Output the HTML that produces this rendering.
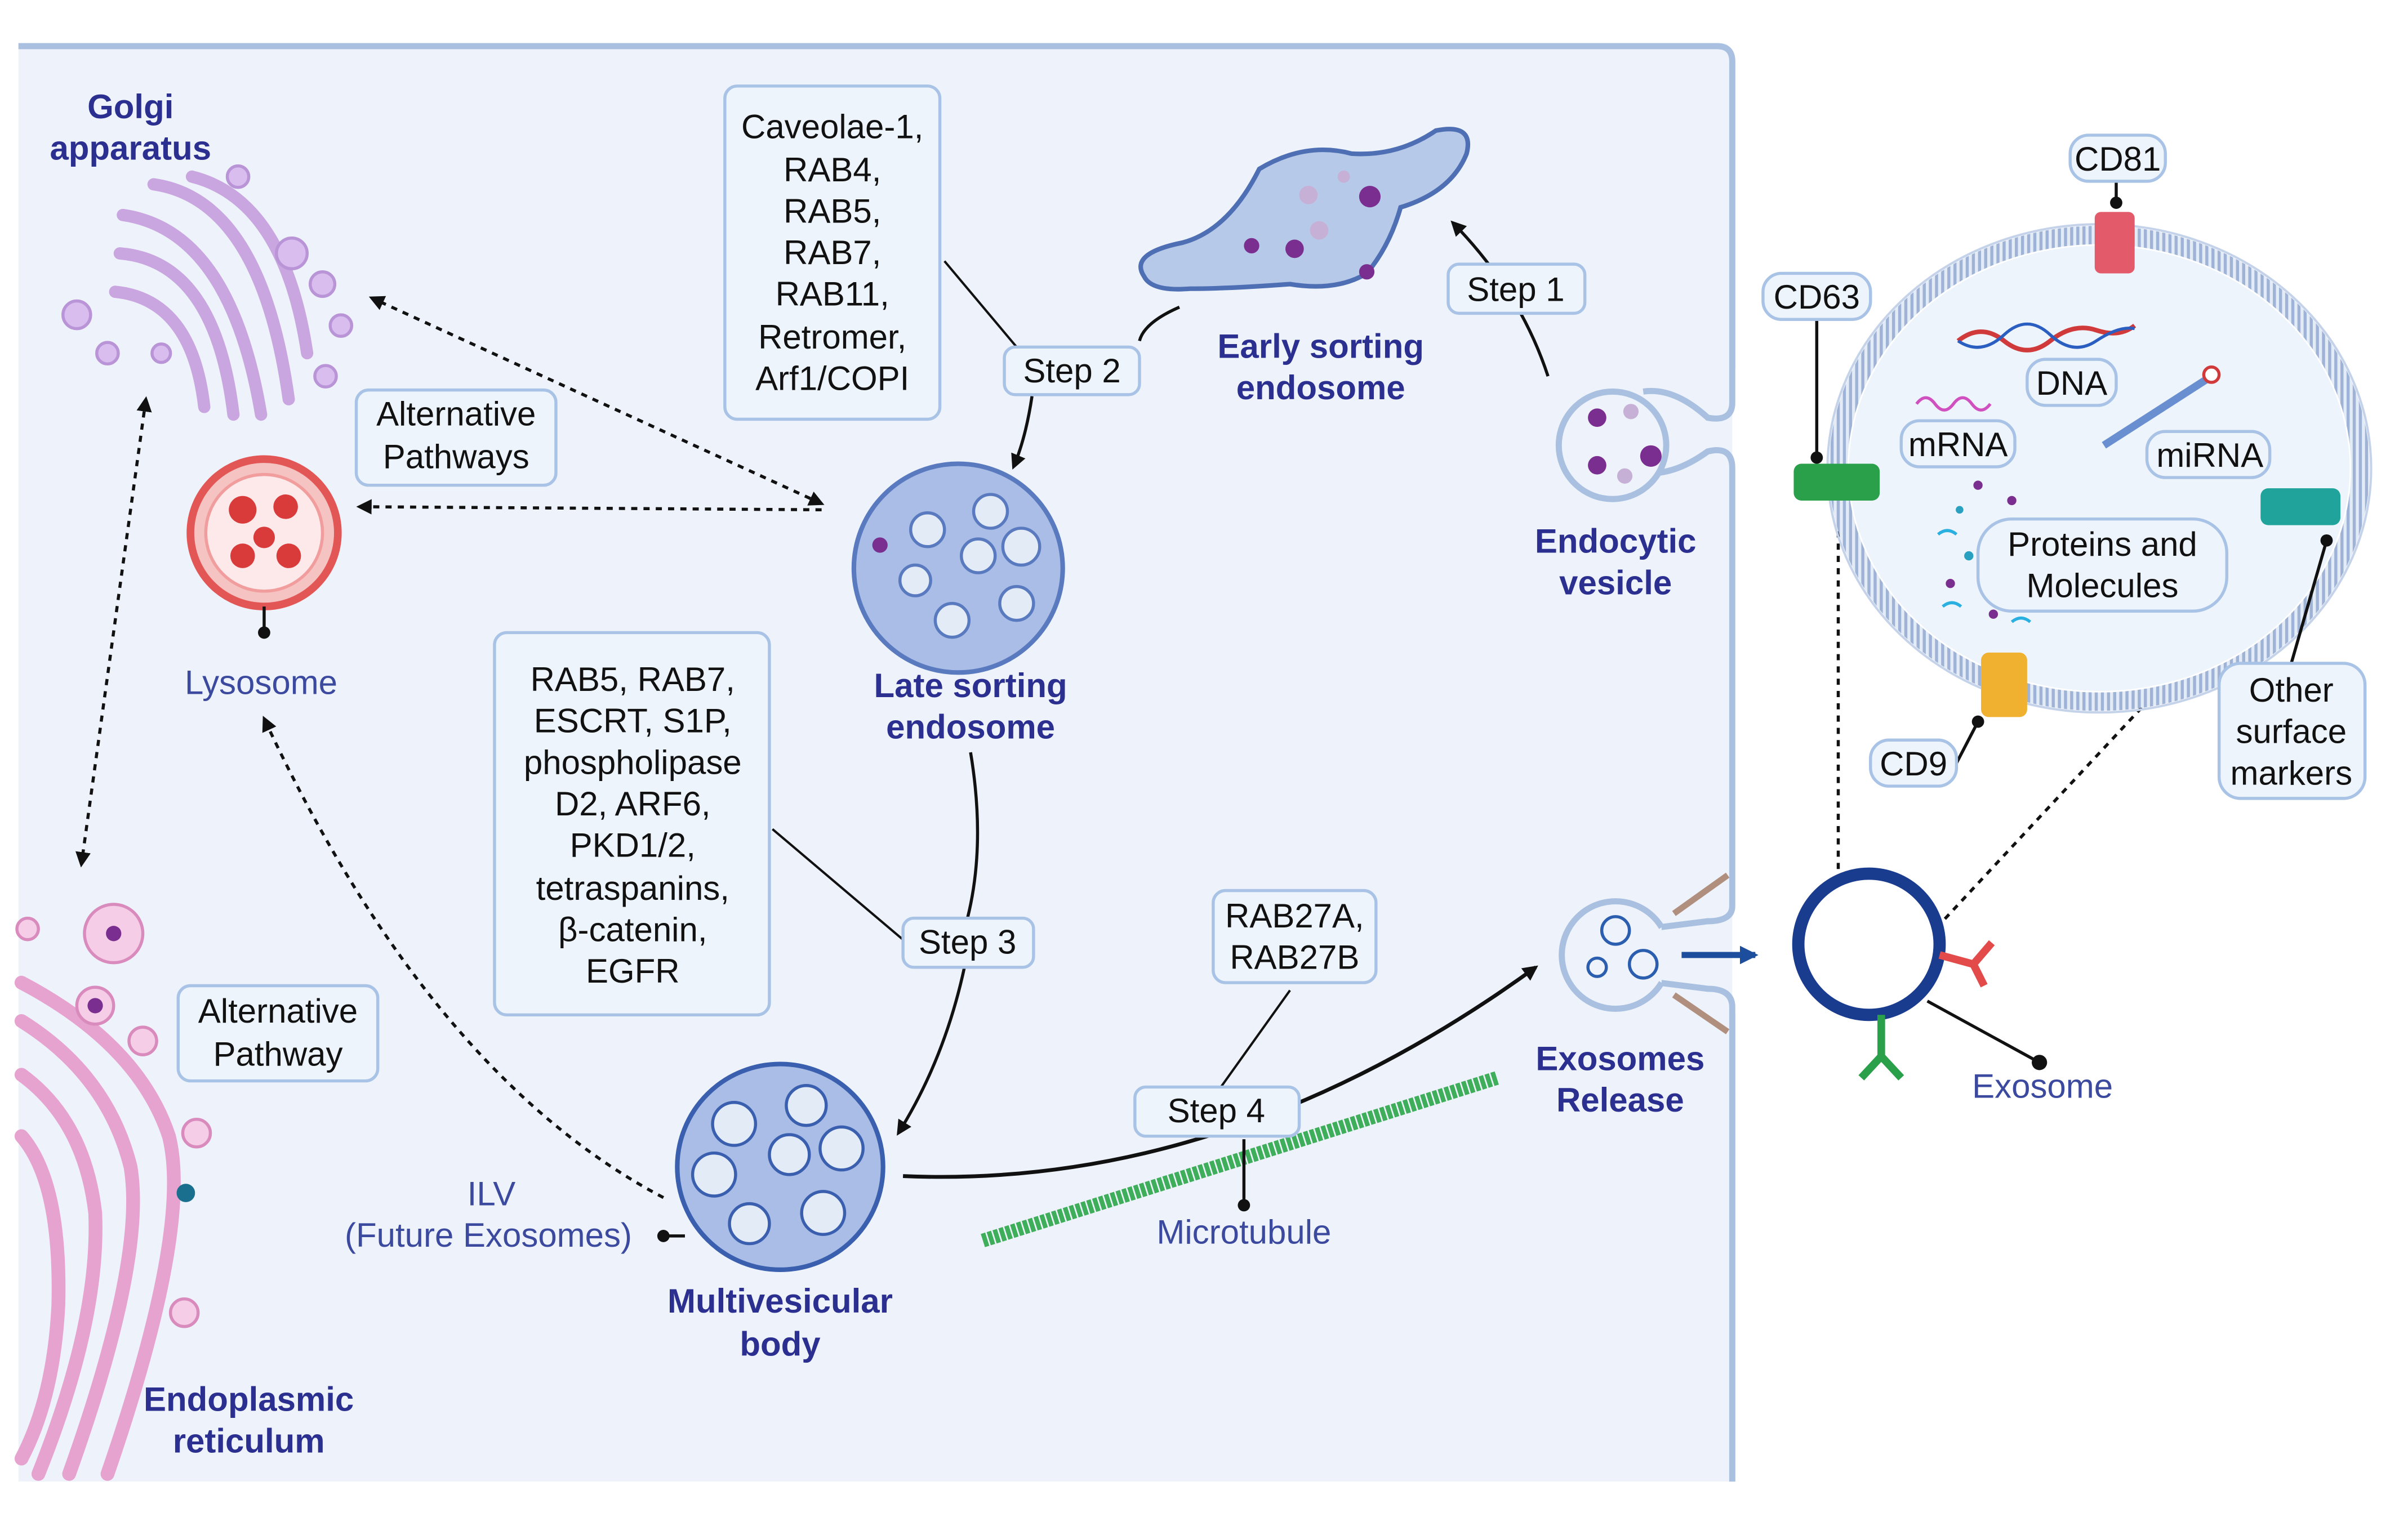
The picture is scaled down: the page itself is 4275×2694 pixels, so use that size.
<!DOCTYPE html>
<html><head><meta charset="utf-8"><style>
html,body{margin:0;padding:0;background:#fff;}
svg{display:block;}
text{font-family:"Liberation Sans",sans-serif;}
.b{font-weight:bold;fill:#2b2f8f;font-size:22px;text-anchor:middle;}
.n{fill:#111;font-size:22px;text-anchor:middle;}
.l{fill:#3b4a9e;font-size:22px;text-anchor:middle;}
.box{fill:#eef4fc;stroke:#a9c3e6;stroke-width:2;}
</style></head><body>
<svg width="4275" height="2694" viewBox="0 0 1568 988" xmlns="http://www.w3.org/2000/svg">
<defs>
<marker id="ah" markerWidth="10" markerHeight="10" refX="8" refY="5" orient="auto" markerUnits="userSpaceOnUse"><path d="M0,0 L10,5 L0,10 z" fill="#111"/></marker>
<marker id="ahb" markerWidth="12" markerHeight="12" refX="10" refY="6" orient="auto" markerUnits="userSpaceOnUse"><path d="M0,0 L12,6 L0,12 z" fill="#1d4e9e"/></marker>
<marker id="as" markerWidth="10" markerHeight="10" refX="2" refY="5" orient="auto" markerUnits="userSpaceOnUse"><path d="M10,0 L0,5 L10,10 z" fill="#111"/></marker>
<pattern id="stripe" width="4" height="4" patternUnits="userSpaceOnUse"><rect width="4" height="4" fill="#e3ebf7"/><rect width="2" height="4" fill="#9fb3d6"/></pattern>
</defs>
<rect width="1568" height="988" fill="#fff"/>
<!-- cell -->
<path d="M12,28 L1120,28 Q1128,28 1128,36 L1128,965 L12,965 Z" fill="#eef3fb"/>
<path d="M12,30 L1118,30 Q1128,30 1128,40 L1128,262 Q1128,275 1112,272 Q1090,252 1070,255 M1070,308 Q1090,310 1112,294 Q1128,290 1128,305 L1128,590 Q1128,600 1112,600 L1080,604 M1080,640 L1112,644 Q1128,644 1128,656 L1128,965" fill="none" stroke="#a9c0e0" stroke-width="4"/>
<rect x="1130" y="240" width="40" height="420" fill="#fff"/>
<!-- Golgi -->
<text class="b" x="85" y="77">Golgi</text><text class="b" x="85" y="104">apparatus</text>
<g fill="none" stroke="#c9a6e0" stroke-width="8" stroke-linecap="round">
<path d="M80,140 Q150,150 170,270"/><path d="M78,165 Q140,170 152,270"/><path d="M75,190 Q125,195 133,265"/><path d="M100,120 Q170,130 188,260"/><path d="M125,115 Q185,130 200,230"/>
</g>
<g fill="#d9bdef" stroke="#b994d6" stroke-width="2">
<circle cx="50" cy="205" r="9"/><circle cx="70" cy="230" r="7"/><circle cx="210" cy="185" r="8"/><circle cx="222" cy="212" r="7"/><circle cx="190" cy="165" r="10"/><circle cx="155" cy="115" r="7"/><circle cx="212" cy="245" r="7"/><circle cx="105" cy="230" r="6"/>
</g>
<rect class="box" x="232" y="254" width="130" height="62" rx="8"/>
<text class="n" x="297" y="277">Alternative</text><text class="n" x="297" y="305">Pathways</text>
<!-- Lysosome -->
<circle cx="172" cy="347" r="48" fill="#f6c3c3" stroke="#e35656" stroke-width="5"/>
<circle cx="172" cy="347" r="38" fill="#fde9e9" stroke="#f29d9d" stroke-width="2"/>
<g fill="#d93a3a"><circle cx="158" cy="332" r="9"/><circle cx="186" cy="330" r="8"/><circle cx="172" cy="350" r="7"/><circle cx="158" cy="362" r="8"/><circle cx="188" cy="362" r="8"/></g>
<line x1="172" y1="395" x2="172" y2="412" stroke="#111" stroke-width="2"/><circle cx="172" cy="412" r="4" fill="#111"/>
<text class="l" x="170" y="452">Lysosome</text>
<!-- Caveolae box -->
<rect class="box" x="472" y="56" width="140" height="217" rx="8"/>
<g class="n"><text x="542" y="90">Caveolae-1,</text><text x="542" y="118">RAB4,</text><text x="542" y="145">RAB5,</text><text x="542" y="172">RAB7,</text><text x="542" y="199">RAB11,</text><text x="542" y="227">Retromer,</text><text x="542" y="254">Arf1/COPI</text></g>
<line x1="615" y1="170" x2="662" y2="226" stroke="#111" stroke-width="1.5"/>
<!-- Early endosome -->
<path d="M745,180 Q735,165 770,158 Q800,150 820,110 Q850,92 880,100 Q910,102 935,85 Q960,80 955,100 Q945,125 912,135 Q905,160 890,178 Q870,190 840,185 Q800,188 775,188 Q750,190 745,180 Z" fill="#b7c9e8" stroke="#4e6fb3" stroke-width="3"/>
<g fill="#7a2e8f"><circle cx="892" cy="128" r="7"/><circle cx="843" cy="162" r="6"/><circle cx="890" cy="177" r="5"/><circle cx="815" cy="160" r="5"/></g>
<g fill="#c7b0d6"><circle cx="852" cy="127" r="6"/><circle cx="859" cy="150" r="6"/><circle cx="875" cy="115" r="4"/></g>
<text class="b" x="860" y="233">Early sorting</text><text class="b" x="860" y="260">endosome</text>
<path d="M1008,245 Q990,190 946,145" fill="none" stroke="#111" stroke-width="2" marker-end="url(#ah)"/>
<rect class="box" x="943" y="172" width="89" height="32" rx="7"/><text class="n" x="987" y="196">Step 1</text>
<path d="M768,200 Q745,210 742,222" fill="none" stroke="#111" stroke-width="2"/>
<path d="M672,258 Q668,285 660,304" fill="none" stroke="#111" stroke-width="2" marker-end="url(#ah)"/>
<rect class="box" x="654" y="226" width="88" height="31" rx="7"/><text class="n" x="698" y="249">Step 2</text>
<!-- Late endosome -->
<circle cx="624" cy="370" r="68" fill="#a9bde6" stroke="#5a7ac0" stroke-width="3"/>
<g fill="#e3ebf7" stroke="#5a7ac0" stroke-width="2"><circle cx="604" cy="345" r="11"/><circle cx="645" cy="333" r="11"/><circle cx="665" cy="356" r="12"/><circle cx="637" cy="362" r="11"/><circle cx="596" cy="378" r="10"/><circle cx="662" cy="393" r="11"/><circle cx="620" cy="404" r="11"/></g>
<circle cx="573" cy="355" r="5" fill="#7a2e8f"/>
<text class="b" x="632" y="454">Late sorting</text><text class="b" x="632" y="481">endosome</text>
<!-- dotted arrows -->
<g fill="none" stroke="#111" stroke-width="2" stroke-dasharray="4,4">
<line x1="535" y1="328" x2="242" y2="194" marker-end="url(#ah)" marker-start="url(#as)"/>
<line x1="535" y1="332" x2="234" y2="330" marker-end="url(#ah)"/>
<line x1="95" y1="260" x2="53" y2="563" marker-end="url(#ah)" marker-start="url(#as)"/>
<path d="M432,780 Q280,700 172,468" marker-end="url(#ah)"/>
<line x1="1197" y1="330" x2="1197" y2="572"/>
<line x1="1400" y1="455" x2="1265" y2="600"/>
</g>
<!-- RAB5 box -->
<rect class="box" x="322" y="412" width="179" height="249" rx="8"/>
<g class="n"><text x="412" y="450">RAB5, RAB7,</text><text x="412" y="477">ESCRT, S1P,</text><text x="412" y="504">phospholipase</text><text x="412" y="531">D2, ARF6,</text><text x="412" y="558">PKD1/2,</text><text x="412" y="586">tetraspanins,</text><text x="412" y="613">β-catenin,</text><text x="412" y="640">EGFR</text></g>
<line x1="503" y1="540" x2="588" y2="612" stroke="#111" stroke-width="1.5"/>
<path d="M632,490 Q642,550 630,598" fill="none" stroke="#111" stroke-width="2"/>
<path d="M628,630 Q615,690 585,738" fill="none" stroke="#111" stroke-width="2" marker-end="url(#ah)"/>
<rect class="box" x="588" y="598" width="85" height="32" rx="7"/><text class="n" x="630" y="621">Step 3</text>
<!-- MVB -->
<circle cx="508" cy="760" r="67" fill="#a9bde6" stroke="#3a5fae" stroke-width="3"/>
<g fill="#e3ebf7" stroke="#3a5fae" stroke-width="2"><circle cx="478" cy="732" r="14"/><circle cx="525" cy="720" r="13"/><circle cx="548" cy="748" r="14"/><circle cx="514" cy="752" r="13"/><circle cx="465" cy="765" r="14"/><circle cx="536" cy="790" r="14"/><circle cx="488" cy="797" r="13"/></g>
<text class="l" x="320" y="785">ILV</text><text class="l" x="318" y="812">(Future Exosomes)</text>
<line x1="432" y1="805" x2="446" y2="805" stroke="#111" stroke-width="2"/><circle cx="432" cy="805" r="4" fill="#111"/>
<text class="b" x="508" y="855">Multivesicular</text><text class="b" x="508" y="883">body</text>
<!-- ER -->
<g fill="none" stroke="#e7a3cf" stroke-width="9" stroke-linecap="round">
<path d="M14,640 Q90,680 110,740 Q125,800 70,960"/><path d="M14,665 Q70,700 85,760 Q95,820 45,960"/><path d="M14,700 Q55,730 62,790 Q65,860 25,960"/><path d="M14,740 Q40,770 38,850 Q35,910 14,950"/>
</g>
<g fill="#f5cde6" stroke="#d98bbd" stroke-width="2"><circle cx="74" cy="608" r="19"/><circle cx="62" cy="655" r="12"/><circle cx="93" cy="678" r="9"/><circle cx="128" cy="738" r="9"/><circle cx="120" cy="855" r="9"/><circle cx="18" cy="605" r="7"/></g>
<circle cx="74" cy="608" r="5" fill="#7a2e8f"/><circle cx="62" cy="655" r="5" fill="#7a2e8f"/><circle cx="121" cy="777" r="6" fill="#1a6f8f"/>
<rect class="box" x="116" y="642" width="130" height="62" rx="8"/>
<text class="n" x="181" y="666">Alternative</text><text class="n" x="181" y="694">Pathway</text>
<text class="b" x="162" y="919">Endoplasmic</text><text class="b" x="162" y="946">reticulum</text>
<!-- microtubule -->
<line x1="640" y1="808" x2="975" y2="702" stroke="#3fae5a" stroke-width="9" stroke-dasharray="3,1"/>
<rect class="box" x="790" y="580" width="106" height="60" rx="8"/>
<text class="n" x="843" y="604">RAB27A,</text><text class="n" x="843" y="631">RAB27B</text>
<line x1="840" y1="645" x2="795" y2="708" stroke="#111" stroke-width="1.5"/>
<path d="M588,766 Q800,775 1000,630" fill="none" stroke="#111" stroke-width="2.5" marker-end="url(#ah)"/>
<line x1="810" y1="742" x2="810" y2="785" stroke="#111" stroke-width="2"/><circle cx="810" cy="785" r="4" fill="#111"/>
<rect class="box" x="739" y="708" width="107" height="32" rx="7"/><text class="n" x="792" y="731">Step 4</text>
<text class="l" x="810" y="810">Microtubule</text>
<!-- endocytic vesicle -->
<circle cx="1050" cy="290" r="35" fill="#eef3fb" stroke="#a9c0e0" stroke-width="4"/>
<g fill="#7a2e8f"><circle cx="1040" cy="272" r="6"/><circle cx="1075" cy="297" r="7"/><circle cx="1040" cy="303" r="6"/></g><circle cx="1062" cy="268" r="5" fill="#c7b0d6"/><circle cx="1058" cy="310" r="5" fill="#c7b0d6"/>
<text class="b" x="1052" y="360">Endocytic</text><text class="b" x="1052" y="387">vesicle</text>
<!-- exosome release -->
<path d="M1082,604 A35,35 0 1,0 1082,640" fill="#eef3fb" stroke="#a9c0e0" stroke-width="4"/>
<g fill="none" stroke="#2b5eae" stroke-width="2"><circle cx="1052" cy="606" r="9"/><circle cx="1070" cy="628" r="9"/><circle cx="1040" cy="630" r="6"/></g>
<line x1="1090" y1="595" x2="1125" y2="570" stroke="#b08f7f" stroke-width="4"/><line x1="1090" y1="648" x2="1125" y2="672" stroke="#b08f7f" stroke-width="4"/>
<text class="b" x="1055" y="697">Exosomes</text><text class="b" x="1055" y="724">Release</text>
<line x1="1095" y1="622" x2="1143" y2="622" stroke="#1d4e9e" stroke-width="4" marker-end="url(#ahb)"/>
<!-- exosome -->
<circle cx="1217" cy="615" r="46" fill="#fff" stroke="#1a3c8f" stroke-width="8"/>
<path d="M1263,622 L1285,628 M1285,628 L1297,614 M1285,628 L1292,642" stroke="#e34a4a" stroke-width="5" fill="none"/>
<path d="M1225,661 L1225,688 M1225,688 L1212,702 M1225,688 L1238,702" stroke="#2aa04a" stroke-width="5" fill="none"/>
<line x1="1255" y1="652" x2="1328" y2="692" stroke="#111" stroke-width="2"/><circle cx="1328" cy="692" r="5" fill="#111"/>
<text class="l" x="1330" y="715">Exosome</text>
<!-- big membrane -->
<ellipse cx="1367" cy="305" rx="170" ry="152" fill="none" stroke="url(#stripe)" stroke-width="12"/>
<ellipse cx="1367" cy="305" rx="163" ry="145" fill="#eef4fc"/>
<ellipse cx="1367" cy="305" rx="177" ry="159" fill="none" stroke="#c5d3ea" stroke-width="1.5"/>
<rect x="1364" y="138" width="26" height="40" rx="4" fill="#e35a6a"/>
<rect x="1168" y="302" width="56" height="24" rx="5" fill="#2aa04a"/>
<rect x="1472" y="318" width="52" height="24" rx="5" fill="#1fa39a"/>
<rect x="1290" y="425" width="30" height="42" rx="5" fill="#f0b030"/>
<line x1="1378" y1="118" x2="1378" y2="135" stroke="#111" stroke-width="2"/><circle cx="1378" cy="132" r="4" fill="#111"/>
<line x1="1183" y1="208" x2="1183" y2="300" stroke="#111" stroke-width="2"/><circle cx="1183" cy="298" r="4" fill="#111"/>
<line x1="1515" y1="352" x2="1492" y2="432" stroke="#111" stroke-width="2"/><circle cx="1515" cy="352" r="4" fill="#111"/>
<line x1="1288" y1="470" x2="1274" y2="497" stroke="#111" stroke-width="2"/><circle cx="1288" cy="470" r="4" fill="#111"/>
<path d="M1275,222 Q1290,210 1305,222 T1335,222 T1365,215 T1390,212" fill="none" stroke="#d03a3a" stroke-width="3"/>
<path d="M1275,222 Q1290,232 1305,218 T1335,218 T1365,222 T1390,214" fill="none" stroke="#2a5ec0" stroke-width="2"/>
<path d="M1248,263 q6,-8 12,0 t12,0 t12,0 t12,0" fill="none" stroke="#d050c0" stroke-width="2"/>
<line x1="1370" y1="290" x2="1440" y2="245" stroke="#6a8fd0" stroke-width="5"/><circle cx="1440" cy="244" r="5" fill="#fff" stroke="#d03a3a" stroke-width="2"/>
<g fill="#2aa0c0"><circle cx="1276" cy="332" r="2.5"/><circle cx="1282" cy="362" r="3"/></g>
<g fill="#7a2e8f"><circle cx="1288" cy="316" r="3"/><circle cx="1310" cy="326" r="3"/><circle cx="1270" cy="380" r="3"/><circle cx="1298" cy="400" r="3"/></g>
<path d="M1262,348 q6,-5 12,0 M1265,395 q6,-5 12,0 M1310,405 q6,-5 12,0" stroke="#2ab0e0" stroke-width="2" fill="none"/>
<rect class="box" x="1348" y="88" width="62" height="30" rx="12"/><text class="n" x="1379" y="111">CD81</text>
<rect class="box" x="1148" y="178" width="70" height="30" rx="12"/><text class="n" x="1183" y="201">CD63</text>
<rect class="box" x="1320" y="234" width="58" height="30" rx="12"/><text class="n" x="1349" y="257">DNA</text>
<rect class="box" x="1238" y="274" width="74" height="30" rx="12"/><text class="n" x="1275" y="297">mRNA</text>
<rect class="box" x="1398" y="281" width="80" height="30" rx="12"/><text class="n" x="1439" y="304">miRNA</text>
<rect class="box" x="1288" y="338" width="162" height="60" rx="22"/><text class="n" x="1369" y="362">Proteins and</text><text class="n" x="1369" y="389">Molecules</text>
<rect class="box" x="1445" y="432" width="95" height="88" rx="14"/><text class="n" x="1492" y="457">Other</text><text class="n" x="1492" y="484">surface</text><text class="n" x="1492" y="511">markers</text>
<rect class="box" x="1218" y="482" width="56" height="30" rx="12"/><text class="n" x="1246" y="505">CD9</text>
</svg>
</body></html>
